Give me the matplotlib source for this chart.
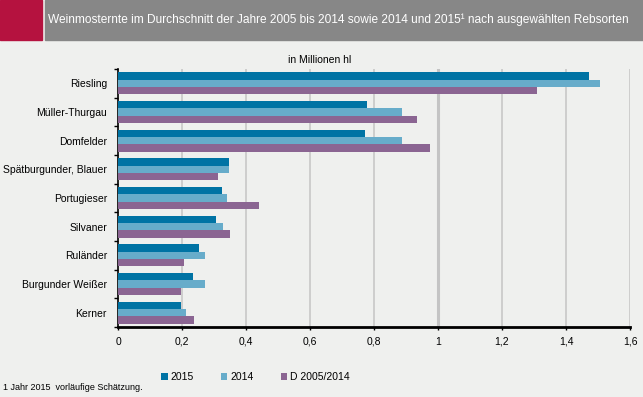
import matplotlib.pyplot as plt
from matplotlib.patches import Rectangle
import numpy as np

plt.rcParams['font.family'] = ['Liberation Sans', 'DejaVu Sans']

sorten = ['Riesling', 'Müller-Thurgau', 'Domfelder', 'Spätburgunder, Blauer',
          'Portugieser', 'Silvaner', 'Ruländer', 'Burgunder Weißer', 'Kerner']
v2015 = [1.472, 0.778, 0.772, 0.347, 0.325, 0.306, 0.253, 0.234, 0.197]
v2014 = [1.506, 0.888, 0.888, 0.347, 0.340, 0.328, 0.272, 0.272, 0.212]
vdurch = [1.309, 0.934, 0.975, 0.313, 0.440, 0.350, 0.206, 0.197, 0.237]
series_labels = ['2015', '2014', 'D 2005/2014']
colors = ['#0073a4', '#67acca', '#8b6592']
xticks = [0, 0.2, 0.4, 0.6, 0.8, 1.0, 1.2, 1.4, 1.6]
xticklabels = ['0', '0,2', '0,4', '0,6', '0,8', '1', '1,2', '1,4', '1,6']

bg = '#eff0ee'
fig = plt.figure(figsize=(6.43, 3.97), dpi=100, facecolor=bg)

# header bar
fig.patches.append(Rectangle((0, 1 - 40/397), 42/643, 40/397, transform=fig.transFigure,
                             color='#b5123f', zorder=0))
fig.patches.append(Rectangle((45/643, 1 - 40/397), 598/643, 40/397, transform=fig.transFigure,
                             color='#878787', zorder=0))
fig.text(48/643, 1 - 20/397, 'Weinmosternte im Durchschnitt der Jahre 2005 bis 2014 sowie 2014 und 2015¹ nach ausgewählten Rebsorten',
         color='white', fontsize=8.55, va='center', ha='left')

ax = fig.add_axes([118/643, 70/397, 512/643, 258/397], facecolor=bg)
y = np.arange(len(sorten))
h = 0.255
for i, (vals, c, lab) in enumerate(zip([v2015, v2014, vdurch], colors, series_labels)):
    ax.barh(y + (i - 1) * h, vals, height=h, color=c, label=lab, zorder=3)

ax.set_ylim(len(sorten) - 0.5, -0.5)
ax.set_xlim(0, 1.6)
ax.set_xticks(xticks)
ax.set_xticklabels(xticklabels, fontsize=7.5)
ax.set_yticks(y)
ax.set_yticklabels(sorten, fontsize=7.5)
ax.set_yticks(np.arange(-0.5, len(sorten)), minor=True)
ax.tick_params(axis='y', which='major', length=0, pad=8)
ax.tick_params(axis='y', which='minor', length=3, width=1, direction='out')
ax.tick_params(axis='x', length=2, width=1, direction='out', pad=5)

for x in xticks[1:]:
    ax.axvline(x, color='#c4c4c4', lw=2.2 if x == 1.0 else 1.1, zorder=1)

for s in ['top', 'right']:
    ax.spines[s].set_visible(False)
ax.spines['left'].set_linewidth(1.2)
ax.spines['bottom'].set_linewidth(2)

fig.text(320/643, 1 - 60/397, 'in Millionen hl', fontsize=7.5, ha='center', va='center')

handles, labels = ax.get_legend_handles_labels()
fig.legend(handles, labels, loc='center left', bbox_to_anchor=(152/643, 1 - 377/397),
           ncol=3, frameon=False, fontsize=7.5, handlelength=0.6, handleheight=0.6,
           handletextpad=0.3, columnspacing=2.6)

fig.text(3/643, 1 - 388/397, '1 Jahr 2015  vorläufige Schätzung.', fontsize=6.5, ha='left', va='center')

fig.savefig('out.png', dpi=100, facecolor=bg)
